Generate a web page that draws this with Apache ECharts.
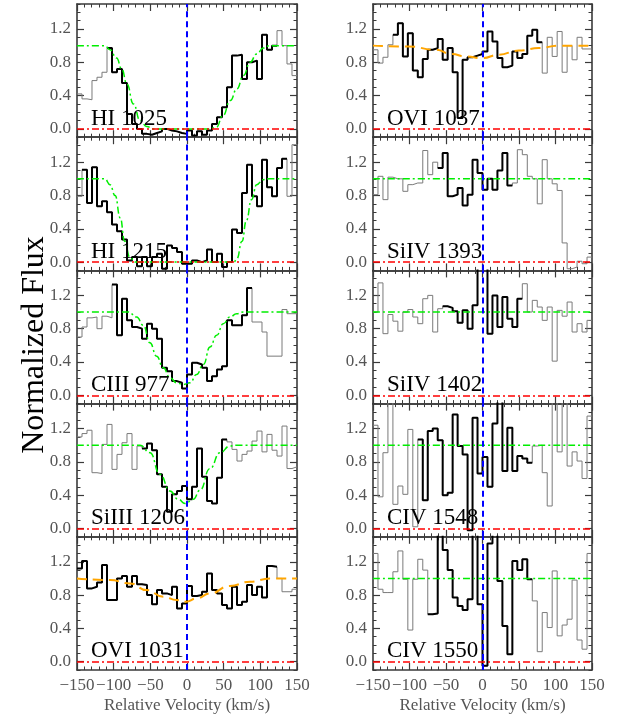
<!DOCTYPE html>
<html>
<head>
<meta charset="utf-8">
<script src="https://cdn.jsdelivr.net/npm/echarts@6/dist/echarts.min.js"></script>
<style>
    html, body { margin: 0; padding: 0; background: #fff; }
    #chart { width: 623px; height: 718px; }
</style>
</head>
<body>
<div id="chart"></div>
<script>
// bin edges in km/s (44 bins)
var velEdges = [-150, -143.18, -136.36, -129.55, -122.73, -115.91, -109.09, -102.27, -95.45, -88.64,
    -81.82, -75, -68.18, -61.36, -54.55, -47.73, -40.91, -34.09, -27.27, -20.45, -13.64, -6.82, 0,
    6.82, 13.64, 20.45, 27.27, 34.09, 40.91, 47.73, 54.55, 61.36, 68.18, 75, 81.82, 88.64, 95.45,
    102.27, 109.09, 115.91, 122.73, 129.55, 136.36, 143.18, 150];

var xTicks = [-150, -100, -50, 0, 50, 100, 150];
var yTicks = [0, 0.4, 0.8, 1.2];

// normalized flux per bin
var fluxHI1025 = [0.42, 0.36, 0.35, 0.58, 0.62, 0.68, 0.97, 0.68, 0.72, 0.55, 0.18, 0.06, 0.0, -0.06, -0.07,
    -0.05, -0.03, 0.0, -0.02, -0.03, -0.05, -0.06, -0.02, -0.08, -0.03, -0.07, -0.02, 0.06, 0.14, 0.26, 0.5,
    0.88, 0.89, 0.6, 0.8, 0.82, 0.6, 1.13, 0.95, 1.0, 1.18, 1.0, 0.78, 0.64];
var fluxHI1215 = [0.79, 1.11, 0.71, 1.14, 0.67, 0.73, 0.6, 0.45, 0.37, 0.27, 0.02, 0.06, -0.05, 0.06, -0.05,
    0.06, 0.1, -0.08, 0.2, 0.17, 0.12, -0.02, -0.02, 0.02, 0.0, 0.02, 0.15, 0.0, 0.1, -0.06, 0.0, 0.39, 0.35,
    0.83, 1.17, 0.79, 0.67, 1.23, 0.9, 0.79, 1.13, 1.24, 0.79, 1.41];
var fluxCIII977 = [0.7, 0.82, 0.93, 0.94, 0.8, 0.95, 0.93, 1.33, 0.72, 1.16, 0.9, 0.82, 0.8, 0.68, 0.86, 0.8,
    0.68, 0.33, 0.29, 0.17, 0.15, 0.08, 0.25, 0.39, 0.37, 0.33, 0.17, 0.23, 0.31, 0.35, 0.9, 0.84, 0.84, 0.96,
    1.29, 0.88, 0.88, 0.76, 0.47, 0.47, 0.47, 1.03, 0.98, 0.98];
var fluxSiIII1206 = [1.1, 1.14, 1.18, 0.67, 0.66, 1.01, 1.25, 0.71, 0.89, 1.03, 1.14, 0.71, 0.99, 0.96, 1.02,
    0.94, 0.65, 0.5, 0.2, 0.41, 0.45, 0.51, 0.35, 0.5, 0.96, 0.62, 0.33, 0.3, 0.61, 1.07, 1.04, 0.95, 0.81,
    0.89, 0.93, 1.05, 1.17, 0.92, 1.13, 0.94, 0.87, 1.23, 0.72, 0.74];
var fluxOVI1031 = [1.12, 1.21, 0.88, 0.9, 0.95, 1.16, 0.74, 0.74, 1.0, 1.03, 0.9, 1.03, 0.93, 0.92, 0.8, 0.69,
    0.86, 0.82, 0.8, 0.9, 0.64, 0.7, 0.91, 0.79, 0.8, 0.84, 1.06, 0.86, 0.82, 0.68, 0.64, 0.9, 0.68, 0.72,
    0.92, 0.8, 0.9, 0.77, 1.15, 1.14, 1.0, 0.84, 0.84, 0.87];
var fluxOVI1037 = [0.95, 0.79, 0.86, 1.01, 1.13, 1.27, 0.87, 1.15, 0.7, 0.62, 0.84, 0.95, 0.97, 1.08, 0.83,
    0.97, 0.68, 0.13, 0.83, 0.86, 0.88, 0.9, 0.93, 1.17, 1.05, 0.85, 0.74, 0.76, 0.93, 0.85, 0.9, 1.12, 1.19,
    1.04, 0.67, 1.1, 0.87, 1.17, 0.68, 1.0, 0.83, 1.1, 0.96, 0.96];
var fluxSiIV1393 = [0.81, 1.03, 0.75, 1.02, 1.0, 1.0, 0.85, 0.93, 0.95, 0.95, 1.34, 1.05, 1.2, 1.13, 1.31,
    0.79, 0.81, 0.89, 0.68, 0.81, 1.23, 1.07, 0.87, 1.0, 0.87, 1.1, 1.31, 0.92, 0.95, 1.35, 1.29, 1.03, 1.0,
    0.7, 1.23, 1.0, 0.94, 0.86, 0.23, -0.08, -0.06, 0.01, -0.02, 0.06];
var fluxSiIV1402 = [1.0, 1.35, 0.74, 0.97, 0.89, 0.77, 1.0, 1.03, 0.94, 0.86, 1.16, 1.2, 0.76, 1.04, 1.07,
    1.05, 1.01, 0.87, 1.02, 0.8, 1.08, 1.6, 1.6, 0.74, 1.2, 0.82, 1.18, 0.92, 0.82, 1.16, 1.34, 1.0, 1.14,
    1.06, 0.9, 1.06, 0.41, 1.02, 0.95, 1.12, 0.76, 0.86, 0.76, 0.9];
var fluxCIV1548 = [1.24, 0.38, 0.91, 1.6, 0.29, 0.51, 0.41, 1.19, 0.02, 1.07, 0.34, 1.17, 1.2, 1.06, 0.4,
    0.43, 1.37, 0.99, 0.89, -0.02, 1.33, 0.66, 0.86, 0.5, 1.26, 1.6, 0.69, 1.21, 0.69, 0.87, 0.84, 0.79,
    0.99, 1.0, 0.67, 0.27, 1.6, 0.92, 1.6, 0.75, 0.92, 0.81, 0.6, 1.35];
var fluxCIV1550 = [1.3, 0.87, 0.83, 0.83, 1.08, 1.33, 0.99, 0.38, 0.99, 1.23, 1.1, 0.57, 0.58, 1.6, 1.34,
    1.1, 0.77, 0.67, 0.62, 0.75, 1.6, 0.69, -0.05, 1.42, 1.6, 0.97, 0.43, 0.09, 1.21, 1.1, 1.23, 0.99, 0.73,
    0.12, 0.59, 0.41, 1.09, 0.31, 0.44, 0.51, 0.98, 0.26, 0.15, 1.3];

// model profiles [velocity, flux]
var fitHI1025 = [[-150, 1], [-112, 1], [-105, 0.95], [-96, 0.85], [-89, 0.72], [-82, 0.54], [-73, 0.3],
    [-64, 0.1], [-55, 0.03], [-46, 0], [31, 0], [40, 0.02], [49, 0.16], [59, 0.34], [68, 0.48], [77, 0.64],
    [86, 0.8], [95, 0.9], [104, 0.97], [113, 1], [150, 1]];
var fitHI1215 = [[-150, 1], [-112, 1], [-105, 0.93], [-98, 0.8], [-91, 0.53], [-85, 0.25], [-78, 0.06],
    [-71, 0], [64, 0], [68, 0.04], [75, 0.25], [81, 0.5], [88, 0.75], [95, 0.93], [104, 0.99], [112, 1], [150, 1]];
var fitCIII977 = [[-150, 1], [-80, 1], [-68.6, 0.94], [-59.5, 0.84], [-50.5, 0.63], [-41.4, 0.47],
    [-32.3, 0.33], [-23.2, 0.21], [-14.1, 0.15], [-5, 0.13], [4.1, 0.15], [13.2, 0.25], [22.3, 0.37],
    [31.4, 0.58], [40.4, 0.72], [49.5, 0.86], [58.6, 0.94], [67.7, 0.98], [76.8, 1], [150, 1]];
var fitSiIII1206 = [[-150, 1], [-64, 1], [-50.5, 0.91], [-36.8, 0.65], [-23.2, 0.45], [-11.8, 0.35],
    [-2.7, 0.3], [8.6, 0.35], [17.7, 0.46], [31.4, 0.72], [45, 0.91], [58.6, 0.99], [68, 1], [150, 1]];
var fitOVI1031 = [[-150, 1], [-105, 0.98], [-77.7, 0.94], [-55, 0.86], [-32.3, 0.78], [-14.1, 0.74],
    [-1.4, 0.72], [13.2, 0.76], [31.4, 0.82], [58.6, 0.91], [86, 0.96], [113, 1], [150, 1]];
var fitOVI1037 = [[-150, 1], [-101, 0.99], [-64.6, 0.95], [-41.8, 0.9], [-23.5, 0.87], [-0.7, 0.85],
    [22, 0.89], [49.5, 0.94], [77, 0.97], [104, 1], [150, 1]];
var fitContinuum = [[-150, 1], [150, 1]];

var panelNames = ['HI 1025', 'HI 1215', 'CIII 977', 'SiIII 1206', 'OVI 1031',
    'OVI 1037', 'SiIV 1393', 'SiIV 1402', 'CIV 1548', 'CIV 1550'];
var panelFlux = [fluxHI1025, fluxHI1215, fluxCIII977, fluxSiIII1206, fluxOVI1031,
    fluxOVI1037, fluxSiIV1393, fluxSiIV1402, fluxCIV1548, fluxCIV1550];
// first and last bin of the bold (fitted) part
var boldBins = [[6, 39], [1, 41], [7, 34], [13, 29], [0, 39], [4, 33], [13, 27], [14, 29], [9, 31], [11, 31]];
var panelFits = [fitHI1025, fitHI1215, fitCIII977, fitSiIII1206, fitOVI1031,
    fitOVI1037, fitContinuum, fitContinuum, fitContinuum, fitContinuum];
var fitKind = ['voigt', 'voigt', 'voigt', 'voigt', 'ovi', 'ovi', 'voigt', 'voigt', 'voigt', 'voigt'];
</script>
<script>
(function () {
    var chart = echarts.init(document.getElementById('chart'), null, {renderer: 'canvas'});
    var serif = '"Liberation Serif", "Times New Roman", serif';
    var colLeft = [77, 373], colWidth = [220, 219];
    var rowTop = [4, 137.2, 270.4, 403.6, 536.8], rowHeight = 133.2;
    var frame = '#3a3a3a';

    function stepData(flux, s, e) {
        var d = [];
        for (var i = s; i <= e; i++) d.push([velEdges[i], flux[i]]);
        d.push([velEdges[e + 1], flux[e]]);
        return d;
    }
    function minusFmt(v) { return v < 0 ? '\u2212' + Math.abs(v) : String(v); }

    var grids = [], xAxes = [], yAxes = [], series = [], graphics = [];

    panelNames.forEach(function (name, p) {
        var col = p < 5 ? 0 : 1, row = p % 5, bottom = row === 4;
        var left = colLeft[col], top = rowTop[row];
        grids.push({left: left, top: top, width: colWidth[col], height: rowHeight});

        ['bottom', 'top'].forEach(function (pos) {
            var main = pos === 'bottom';
            xAxes.push({
                gridIndex: p, type: 'value', position: pos, min: -150, max: 150, interval: 50,
                axisLine: {show: true, onZero: false, lineStyle: {color: frame, width: 1.6}},
                axisTick: {show: true, inside: true, length: 7, lineStyle: {color: frame, width: 1.2}},
                minorTick: {show: true, splitNumber: 5, length: 3.5, lineStyle: {color: frame, width: 1}},
                splitLine: {show: false},
                axisLabel: {show: main && bottom, margin: 7, color: '#555', fontFamily: serif, fontSize: 17,
                    customValues: xTicks, formatter: minusFmt},
                name: main && bottom ? 'Relative Velocity (km/s)' : '',
                nameLocation: 'middle', nameGap: 27,
                nameTextStyle: {color: '#555', fontFamily: serif, fontSize: 17}
            });
        });
        ['left', 'right'].forEach(function (pos) {
            var main = pos === 'left';
            // minor ticks every 0.1 + frame line
            yAxes.push({
                gridIndex: p, type: 'value', position: pos, min: -0.1, max: 1.5, interval: 0.1,
                axisLine: {show: true, onZero: false, lineStyle: {color: frame, width: 1.6}},
                axisTick: {show: true, inside: true, length: 3.5, lineStyle: {color: frame, width: 1}},
                splitLine: {show: false},
                axisLabel: {show: main, margin: 6, color: '#555', fontFamily: serif, fontSize: 17,
                    customValues: yTicks, formatter: function (v) { return v.toFixed(1); }}
            });
            // major ticks
            yAxes.push({
                gridIndex: p, type: 'value', position: pos, min: -0.1, max: 1.5, interval: 0.1,
                axisLine: {show: false, onZero: false},
                axisTick: {show: true, inside: true, length: 7, customValues: yTicks,
                    lineStyle: {color: frame, width: 1.2}},
                splitLine: {show: false}, axisLabel: {show: false}
            });
        });

        var xi = p * 2, yi = p * 4;
        var flux = panelFlux[p], bb = boldBins[p];
        series.push({
            type: 'line', xAxisIndex: xi, yAxisIndex: yi, step: 'end', symbol: 'none', z: 2,
            data: stepData(flux, 0, flux.length - 1),
            lineStyle: {color: '#7a7a7a', width: 1}
        });
        series.push({
            type: 'line', xAxisIndex: xi, yAxisIndex: yi, step: 'end', symbol: 'none', z: 3,
            data: stepData(flux, bb[0], bb[1]),
            lineStyle: {color: '#000', width: 2}
        });
        var ovi = fitKind[p] === 'ovi';
        series.push({
            type: 'line', xAxisIndex: xi, yAxisIndex: yi, symbol: 'none', z: 4,
            smooth: true, smoothMonotone: 'x',
            data: panelFits[p],
            lineStyle: ovi ? {color: '#ffa500', width: 2, type: [10, 6]}
                           : {color: '#00ee00', width: 1.5, type: [7, 3, 2, 3]},
            markLine: {
                silent: true, symbol: ['none', 'none'], label: {show: false}, animation: false,
                data: [
                    {yAxis: 0, lineStyle: {color: '#ff0000', width: 1.5, type: [7, 3, 2, 3]}},
                    {xAxis: 0, lineStyle: {color: '#0000ff', width: 2, type: [6, 4]}}
                ]
            }
        });

        graphics.push({
            type: 'text', x: left + 14, y: top + 126, z: 10,
            style: {text: name, font: '23px ' + serif, fill: '#000',
                textAlign: 'left', textVerticalAlign: 'bottom', align: 'left', verticalAlign: 'bottom'}
        });
    });

    graphics.push({
        type: 'text', x: 35, y: 345, rotation: Math.PI / 2, z: 10,
        style: {text: 'Normalized Flux', font: '32px ' + serif, fill: '#000',
            textAlign: 'center', textVerticalAlign: 'middle', align: 'center', verticalAlign: 'middle'}
    });

    chart.setOption({
        animation: false,
        backgroundColor: '#fff',
        grid: grids,
        xAxis: xAxes,
        yAxis: yAxes,
        series: series,
        graphic: graphics
    });
})();
</script>
</body>
</html>
